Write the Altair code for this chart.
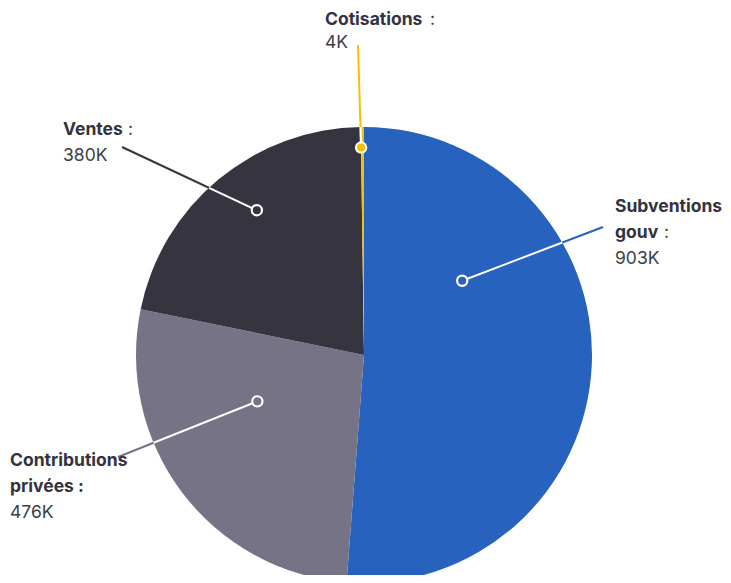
import math
import altair as alt
import pandas as pd

# ---- data ----
categories = ["Subventions gouv", "Contributions privées", "Ventes", "Cotisations"]
values = [903, 476, 380, 4]
value_labels = ["903K", "476K", "380K", "4K"]
name_lines = [["Subventions", "gouv"], ["Contributions", "privées :"], ["Ventes"], ["Cotisations"]]
colon_after = [True, False, True, True]
colors = ["#2762be", "#767386", "#35343f", "#f2c200"]

# ---- layout (coordinates relative to page minus 8px margin) ----
W, H = 715, 567
TOP = 8                      # top padding kept free for text ascenders
CX, CY, R = 356, 347, 228
marker_angle = [52.9, 246.5, 323.5, 359.2]      # degrees clockwise from top
marker_rfrac = [0.54, 0.51, 0.79, 0.91]
line_end = [(595, 219), (110, 449), (114, 139), (350, 37)]
text_pos = [(607, 204), (2, 458), (55, 127), (317, 17)]   # x, first baseline
value_gap = [26, 26, 26, 23]
colon_x = [656, None, 120, 422]
LH = 26
FONT = "Inter"
FS = 17.5

rows, lines, inner, texts, colons, vals = [], [], [], [], [], []
for i, c in enumerate(categories):
    a = math.radians(marker_angle[i])
    r = marker_rfrac[i] * R
    mx, my = CX + r * math.sin(a), CY - r * math.cos(a)
    ex, ey = line_end[i]
    dx, dy = ex - mx, ey - my
    fx, fy = mx - CX, my - CY
    qa = dx * dx + dy * dy
    qb = 2 * (fx * dx + fy * dy)
    qc = fx * fx + fy * fy - R * R
    t = (-qb + math.sqrt(qb * qb - 4 * qa * qc)) / (2 * qa)
    ix, iy = mx + t * dx, my + t * dy
    rows.append({"cat": c, "val": values[i], "idx": i})
    lines.append({"cat": c, "x": mx, "y": my, "x2": ex, "y2": ey})
    inner.append({"cat": c, "x": mx, "y": my, "x2": ix, "y2": iy})
    tx, ty = text_pos[i]
    texts.append({"cat": c, "x": tx, "y": ty, "t": name_lines[i]})
    nl = len(name_lines[i])
    if colon_after[i]:
        colons.append({"cat": c, "x": colon_x[i], "y": ty + (nl - 1) * LH, "t": ":"})
    vals.append({"cat": c, "x": tx, "y": ty + (nl - 1) * LH + value_gap[i], "t": value_labels[i]})

pie_df = pd.DataFrame(rows)
lines_df = pd.DataFrame(lines)
inner_df = pd.DataFrame(inner)
pts_df = pd.DataFrame([{"cat": l["cat"], "x": l["x"], "y": l["y"]} for l in lines])
texts_df = pd.DataFrame(texts)
colons_df = pd.DataFrame(colons)
vals_df = pd.DataFrame(vals)

xs = alt.Scale(domain=[0, W], nice=False, zero=False)
ys = alt.Scale(domain=[TOP, H], nice=False, zero=False, reverse=True)
cscale = alt.Scale(domain=categories, range=colors)
col = alt.Color("cat:N", scale=cscale, legend=None)
X = alt.X("x:Q", scale=xs, axis=None)
Y = alt.Y("y:Q", scale=ys, axis=None)

pie = alt.Chart(pie_df).mark_arc(radius=R, stroke=None).encode(
    theta=alt.Theta("val:Q", stack=True),
    order=alt.Order("idx:Q"),
    color=col,
    x=alt.value(CX),
    y=alt.value(CY - TOP),
)

lead = alt.Chart(lines_df).mark_rule(strokeWidth=2).encode(x=X, y=Y, x2="x2:Q", y2="y2:Q", color=col)
lead_in = alt.Chart(inner_df).mark_rule(strokeWidth=2, color="white").encode(x=X, y=Y, x2="x2:Q", y2="y2:Q")
pts = alt.Chart(pts_df).mark_point(filled=True, size=105, stroke="white", strokeWidth=2.2, opacity=1).encode(
    x=X, y=Y, fill=alt.Fill("cat:N", scale=cscale, legend=None),
)
names = alt.Chart(texts_df).mark_text(align="left", baseline="alphabetic", font=FONT, fontSize=FS,
                                      fontWeight="bold", color="#33323e", lineHeight=LH).encode(
    x=X, y=Y, text="t")
colon_t = alt.Chart(colons_df).mark_text(align="left", baseline="alphabetic", font=FONT, fontSize=FS,
                                         color="#3d3d48").encode(x=X, y=Y, text="t")
val_t = alt.Chart(vals_df).mark_text(align="left", baseline="alphabetic", font=FONT, fontSize=FS,
                                     color="#3d3d48").encode(x=X, y=Y, text="t")

chart = alt.layer(pie, lead, lead_in, pts, names, colon_t, val_t).properties(
    width=W, height=H - TOP,
    padding={"left": 0, "right": 0, "top": TOP, "bottom": 0},
    autosize=alt.AutoSizeParams(type="none"),
).configure_view(stroke=None)

chart.save("out.html", embed_options={"renderer": "svg", "actions": False})
